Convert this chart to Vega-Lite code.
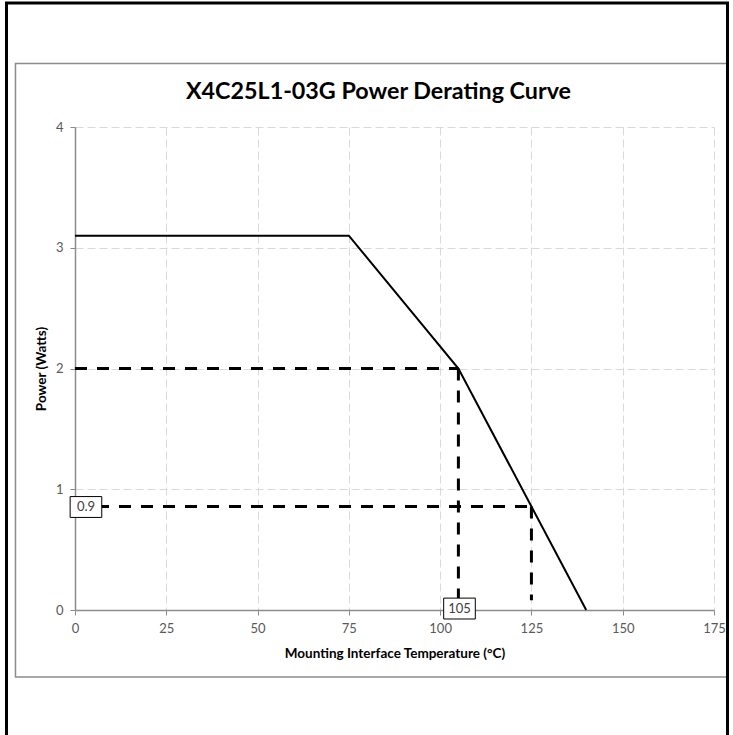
{
  "$schema": "https://vega.github.io/schema/vega-lite/v6.json",
  "autosize": "none",
  "width": 639,
  "height": 483,
  "padding": {"left": 75, "top": 127, "right": 19, "bottom": 125},
  "background": "white",
  "config": {
    "view": {"stroke": null},
    "font": "Lato",
    "axis": {
      "labelFont": "Lato",
      "labelFontSize": 13,
      "labelColor": "#595959",
      "titleFont": "Lato",
      "titleFontSize": 13.5,
      "titleFontWeight": "bold",
      "titleColor": "#000000",
      "domainColor": "#8c8c8c",
      "domainWidth": 1.5,
      "tickColor": "#8c8c8c",
      "tickSize": 5,
      "gridColor": "#d9d9d9",
      "gridDash": [8, 4],
      "gridWidth": 1
    }
  },
  "title": {
    "text": "X4C25L1-03G Power Derating Curve",
    "font": "Lato",
    "fontSize": 23.3,
    "fontWeight": "bold",
    "color": "#000000",
    "anchor": "middle",
    "frame": "group",
    "baseline": "alphabetic",
    "dx": -16,
    "offset": -121
  },
  "datasets": {
    "frames": [
      {"part": "outer", "x": -18.76, "x2": 178.7, "y": 5.027, "y2": -2.0},
      {"part": "chart", "x": -16.3, "x2": 178.7, "y": 4.526, "y2": -0.555}
    ],
    "curve": [
      {"temp": 0, "power": 3.1},
      {"temp": 75, "power": 3.1},
      {"temp": 105, "power": 2.0},
      {"temp": 140, "power": 0.0}
    ],
    "guides": [
      {"temp": 0, "power": 2.0, "temp2": 105, "power2": 2.0},
      {"temp": 105, "power": 2.0, "temp2": 105, "power2": 0.0},
      {"temp": 0, "power": 0.857, "temp2": 125, "power2": 0.857},
      {"temp": 125, "power": 0.857, "temp2": 125, "power2": 0.08}
    ],
    "labels": [
      {"temp": 3.0, "power": 0.853, "label": "0.9"},
      {"temp": 105.3, "power": 0.012, "label": "105"}
    ]
  },
  "layer": [
    {
      "data": {"name": "frames"},
      "transform": [{"filter": "datum.part === 'chart'"}],
      "mark": {"type": "rect", "fill": null, "stroke": "#8c8c8c", "strokeWidth": 1.5},
      "encoding": {
        "x": {"field": "x", "type": "quantitative", "scale": {"domain": [0, 175], "nice": false, "zero": false},
          "axis": {"values": [0, 25, 50, 75, 100, 125, 150, 175], "title": "Mounting  Interface Temperature (°C)", "labelPadding": 7, "titlePadding": 11, "grid": true, "labelFlush": false}},
        "x2": {"field": "x2"},
        "y": {"field": "y", "type": "quantitative", "scale": {"domain": [0, 4], "nice": false, "zero": false},
          "axis": {"values": [0, 1, 2, 3, 4], "format": "d", "title": "Power (Watts)", "labelPadding": 7, "titlePadding": 7, "grid": true}},
        "y2": {"field": "y2"}
      }
    },
    {
      "data": {"name": "frames"},
      "transform": [{"filter": "datum.part === 'outer'"}],
      "mark": {"type": "rect", "fill": null, "stroke": "#000000", "strokeWidth": 3},
      "encoding": {
        "x": {"field": "x", "type": "quantitative"},
        "x2": {"field": "x2"},
        "y": {"field": "y", "type": "quantitative"},
        "y2": {"field": "y2"}
      }
    },
    {
      "data": {"name": "curve"},
      "mark": {"type": "line", "color": "#000000", "strokeWidth": 2},
      "encoding": {
        "x": {"field": "temp", "type": "quantitative"},
        "y": {"field": "power", "type": "quantitative"}
      }
    },
    {
      "data": {"name": "guides"},
      "mark": {"type": "rule", "color": "#000000", "strokeWidth": 3, "strokeDash": [12, 10]},
      "encoding": {
        "x": {"field": "temp", "type": "quantitative"},
        "y": {"field": "power", "type": "quantitative"},
        "x2": {"field": "temp2"},
        "y2": {"field": "power2"}
      }
    },
    {
      "data": {"name": "labels"},
      "mark": {"type": "point", "shape": "M-1,-0.66H1V0.66H-1Z", "size": 1000, "filled": true, "fill": "white", "stroke": "#000000", "strokeWidth": 1, "opacity": 1},
      "encoding": {
        "x": {"field": "temp", "type": "quantitative"},
        "y": {"field": "power", "type": "quantitative"}
      }
    },
    {
      "data": {"name": "labels"},
      "mark": {"type": "text", "font": "Lato", "fontSize": 13, "color": "#404040", "align": "center", "baseline": "middle"},
      "encoding": {
        "x": {"field": "temp", "type": "quantitative"},
        "y": {"field": "power", "type": "quantitative"},
        "text": {"field": "label"}
      }
    }
  ]
}
